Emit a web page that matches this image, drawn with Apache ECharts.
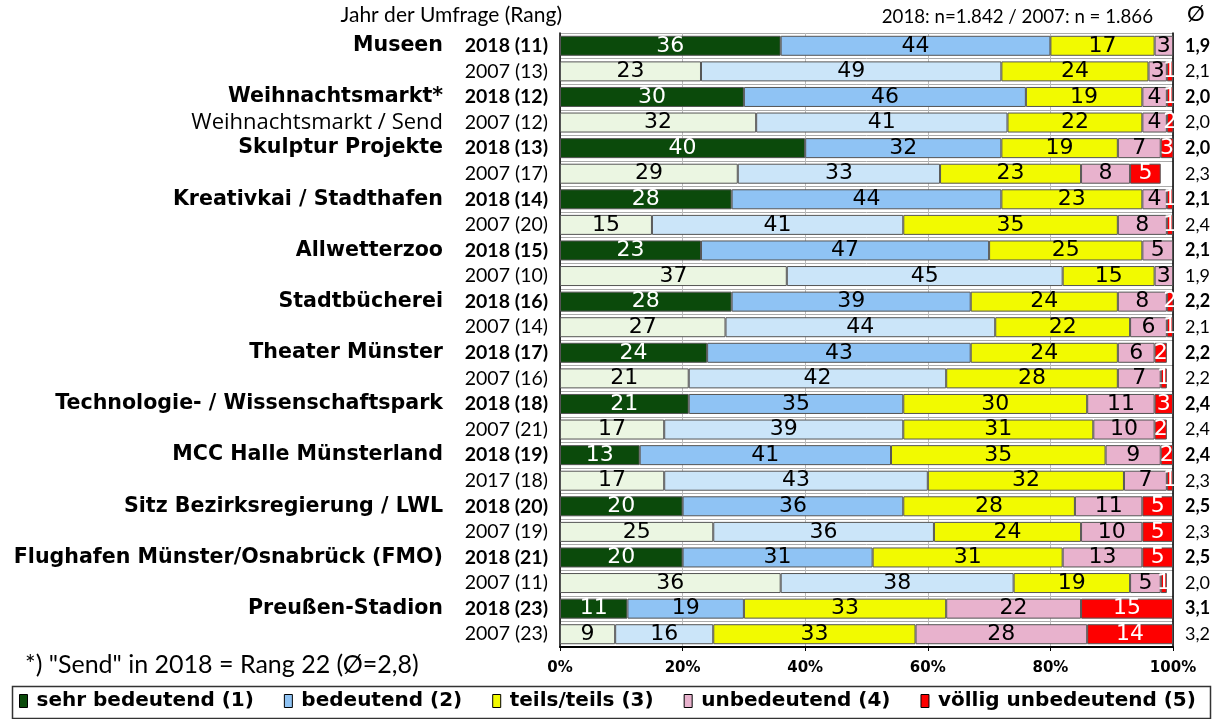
<!DOCTYPE html>
<html>
<head>
<meta charset="utf-8">
<script src="https://cdn.jsdelivr.net/npm/echarts@6/dist/echarts.min.js"></script>
<style>
  html, body { margin: 0; padding: 0; background: #fff; }
  #chart { width: 1218px; height: 719px; }
</style>
</head>
<body>
<div id="chart"></div>
<script>
// Zeilen: jeweils 2018 und Vergleichsjahr
const facilities = [
  'Museen', '',
  'Weihnachtsmarkt*', 'Weihnachtsmarkt / Send',
  'Skulptur Projekte', '',
  'Kreativkai / Stadthafen', '',
  'Allwetterzoo', '',
  'Stadtbücherei', '',
  'Theater Münster', '',
  'Technologie- / Wissenschaftspark', '',
  'MCC Halle Münsterland', '',
  'Sitz Bezirksregierung / LWL', '',
  'Flughafen Münster/Osnabrück (FMO)', '',
  'Preußen-Stadion', ''
]
const yearRanks = [
  '2018 (11)', '2007 (13)',
  '2018 (12)', '2007 (12)',
  '2018 (13)', '2007 (17)',
  '2018 (14)', '2007 (20)',
  '2018 (15)', '2007 (10)',
  '2018 (16)', '2007 (14)',
  '2018 (17)', '2007 (16)',
  '2018 (18)', '2007 (21)',
  '2018 (19)', '2017 (18)',
  '2018 (20)', '2007 (19)',
  '2018 (21)', '2007 (11)',
  '2018 (23)', '2007 (23)'
]
const avgScores = [
  '1,9', '2,1', '2,0', '2,0', '2,0', '2,3', '2,1', '2,4', '2,1', '1,9', '2,2', '2,1',
  '2,2', '2,2', '2,4', '2,4', '2,4', '2,3', '2,5', '2,3', '2,5', '2,0', '3,1', '3,2'
]

const categoryNames = ['sehr bedeutend (1)', 'bedeutend (2)', 'teils/teils (3)', 'unbedeutend (4)', 'völlig unbedeutend (5)']

const sehrBedeutend = [36, 23, 30, 32, 40, 29, 28, 15, 23, 37, 28, 27, 24, 21, 21, 17, 13, 17, 20, 25, 20, 36, 11, 9]
const bedeutend     = [44, 49, 46, 41, 32, 33, 44, 41, 47, 45, 39, 44, 43, 42, 35, 39, 41, 43, 36, 36, 31, 38, 19, 16]
const teilsTeils    = [17, 24, 19, 22, 19, 23, 23, 35, 25, 15, 24, 22, 24, 28, 30, 31, 35, 32, 28, 24, 31, 19, 33, 33]
const unbedeutend   = [3, 3, 4, 4, 7, 8, 4, 8, 5, 3, 8, 6, 6, 7, 11, 10, 9, 7, 11, 10, 13, 5, 22, 28]
const voellig       = [1, 1, 1, 2, 3, 5, 1, 1, 1, 1, 2, 1, 2, 1, 3, 2, 2, 1, 5, 5, 5, 1, 15, 14]

// Farben: [aktuelles Jahr, Vergleichsjahr]
const colors = [
  ['#0b4a0b', '#ebf6e2'],
  ['#8fc3f4', '#cbe5f9'],
  ['#f2fa00', '#f2fa00'],
  ['#e8b2cd', '#e8b2cd'],
  ['#fe0000', '#fe0000']
]
const labelColors = [
  ['#fff', '#000'],
  ['#000', '#000'],
  ['#000', '#000'],
  ['#000', '#000'],
  ['#fff', '#fff']
]

const seriesData = [sehrBedeutend, bedeutend, teilsTeils, unbedeutend, voellig]

const chart = echarts.init(document.getElementById('chart'))

const option = {
  animation: false,
  textStyle: { fontFamily: 'DejaVu Sans' },
  grid: { left: 560, right: 45, top: 33, height: 614 },
  graphic: [
    {
      type: 'text', right: 1218 - 562, top: 5,
      style: { text: 'Jahr der Umfrage (Rang)', font: '21px Lato', fill: '#000', textAlign: 'right' }
    },
    {
      type: 'text', right: 1218 - 1153, top: 7,
      style: { text: '2018: n=1.842 / 2007: n = 1.866', font: '18.7px Lato', fill: '#000' }
    },
    {
      type: 'text', left: 1187, top: 3,
      style: { text: 'Ø', font: '22px Lato', fill: '#000' }
    },
    {
      type: 'text', left: 25, top: 652,
      style: { text: '*) "Send" in 2018 = Rang 22 (Ø=2,8)', font: '25px Lato', fill: '#000' }
    },
    {
      type: 'rect', left: 10, top: 684,
      shape: { width: 1198, height: 32 },
      style: { fill: 'none', stroke: '#333', lineWidth: 1.5 }
    }
  ],
  legend: {
    top: 691,
    left: 19,
    padding: 0,
    itemWidth: 8,
    itemHeight: 13,
    itemGap: 30,
    icon: 'rect',
    itemStyle: { borderColor: '#000', borderWidth: 1 },
    textStyle: { fontFamily: 'DejaVu Sans', fontWeight: 'bold', fontSize: 20, color: '#000', padding: [0, 0, 0, 4] },
    data: categoryNames
  },
  xAxis: {
    type: 'value',
    min: 0,
    max: 100,
    interval: 20,
    axisLine: { show: true, lineStyle: { color: '#000', width: 2 } },
    axisTick: { show: true, length: 4, lineStyle: { color: '#000' } },
    axisLabel: {
      formatter: '{value}%', fontWeight: 'bold', fontSize: 15, color: '#000', margin: 14
    },
    splitLine: { show: true, lineStyle: { color: '#bbb', width: 1 } }
  },
  yAxis: [
    {
      type: 'category',
      inverse: true,
      data: yearRanks,
      axisLine: { show: true, lineStyle: { color: '#000', width: 1.5 } },
      axisTick: { show: false },
      splitLine: { show: true, lineStyle: { color: '#aaa', width: 1 } },
      axisLabel: {
        margin: 12,
        formatter: (v, i) => (i % 2 === 0 ? '{b|' + v + '}' : '{n|' + v + '}'),
        rich: {
          b: { fontFamily: 'Lato', fontWeight: 'bold', fontSize: 19.5, color: '#000' },
          n: { fontFamily: 'Lato', fontSize: 19.5, color: '#000' }
        }
      }
    },
    {
      type: 'category',
      inverse: true,
      position: 'left',
      offset: 109,
      data: facilities,
      axisLine: { show: false },
      axisTick: { show: false },
      axisLabel: {
        margin: 8,
        interval: 0,
        formatter: (v, i) => (v === '' ? '' : (i % 2 === 0 ? '{b|' + v + '}' : '{n|' + v + '}')),
        rich: {
          b: { fontFamily: 'DejaVu Sans', fontWeight: 'bold', fontSize: 20.6, color: '#000' },
          n: { fontFamily: 'Open Sans', fontSize: 22, color: '#000' }
        }
      }
    },
    {
      type: 'category',
      inverse: true,
      position: 'right',
      data: avgScores,
      axisLine: { show: true, lineStyle: { color: '#000', width: 1.5 } },
      axisTick: { show: false },
      axisLabel: {
        margin: 12,
        interval: 0,
        formatter: (v, i) => (i % 2 === 0 ? '{b|' + v + '}' : '{n|' + v + '}'),
        rich: {
          b: { fontFamily: 'Lato', fontWeight: 'bold', fontSize: 18, color: '#000' },
          n: { fontFamily: 'Lato', fontSize: 18, color: '#000' }
        }
      }
    }
  ],
  series: seriesData.map((vals, s) => ({
    name: categoryNames[s],
    type: 'bar',
    stack: 'total',
    yAxisIndex: 0,
    barWidth: 20,
    itemStyle: { color: colors[s][0], borderColor: '#555', borderWidth: 1 },
    label: {
      show: true,
      position: 'inside',
      fontFamily: 'DejaVu Sans',
      fontSize: 22,
      formatter: p => p.value
    },
    data: vals.map((v, i) => ({
      value: v,
      itemStyle: { color: colors[s][i % 2] },
      label: { color: labelColors[s][i % 2] }
    }))
  }))
}

chart.setOption(option)
</script>
</body>
</html>
